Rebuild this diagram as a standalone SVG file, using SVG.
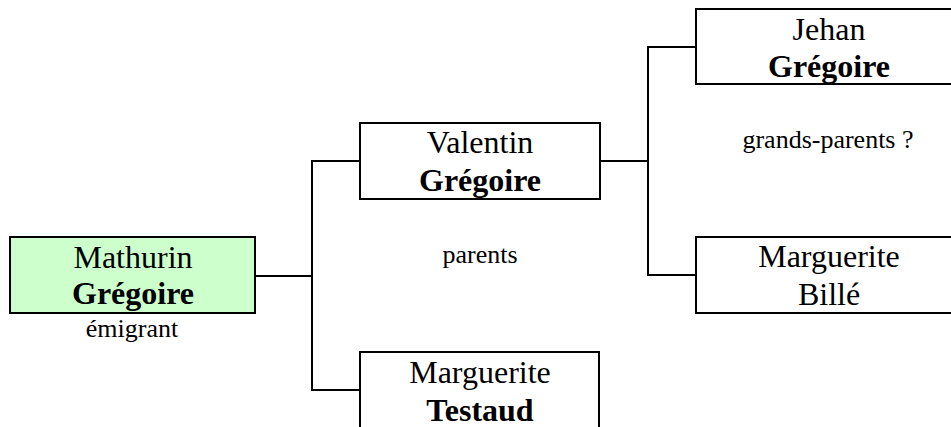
<svg xmlns="http://www.w3.org/2000/svg" width="951" height="427" viewBox="0 0 951 427">
<style>
.box{fill:#ffffff;stroke:#000000;stroke-width:2}
.ego{fill:#ccffcc;stroke:#000000;stroke-width:2}
text{font-family:'Liberation Serif','Times New Roman',Times,'DejaVu Serif',serif;fill:#000;text-anchor:middle}
.name{font-size:32px}
.b{font-weight:bold}
.lbl{font-size:26px}
.con{fill:none;stroke:#000000;stroke-width:2}
</style>
<rect width="951" height="427" fill="#ffffff"/>
<g id="connectors">
<polyline class="con" points="255,276 312,276"/>
<polyline class="con" points="360,161 312,161 312,390 360,390"/>
<polyline class="con" points="600,161 648,161"/>
<polyline class="con" points="696,47 648,47 648,275 696,275"/>
</g>
<g id="mathurin" font-family="Liberation Serif, serif">
<rect class="ego" x="10" y="237" width="245" height="76"/>
<text class="name" x="133" y="268">Mathurin</text>
<text class="name b" x="133" y="304">Grégoire</text>
<text class="lbl" x="132" y="337">émigrant</text>
</g>
<g id="valentin" font-family="Liberation Serif, serif">
<rect class="box" x="360" y="123" width="240" height="76"/>
<text class="name" x="480" y="153">Valentin</text>
<text class="name b" x="480" y="191">Grégoire</text>
</g>
<g id="testaud" font-family="Liberation Serif, serif">
<rect class="box" x="360" y="352" width="239" height="90"/>
<text class="name" x="480" y="383">Marguerite</text>
<text class="name b" x="480" y="421">Testaud</text>
</g>
<g id="jehan" font-family="Liberation Serif, serif">
<rect class="box" x="696" y="9" width="270" height="75"/>
<text class="name" x="829" y="40">Jehan</text>
<text class="name b" x="829" y="77">Grégoire</text>
</g>
<g id="bille" font-family="Liberation Serif, serif">
<rect class="box" x="696" y="237" width="270" height="76"/>
<text class="name" x="829" y="267">Marguerite</text>
<text class="name" x="829" y="305">Billé</text>
</g>
<g id="labels" font-family="Liberation Serif, serif">
<text class="lbl" x="480" y="263">parents</text>
<text class="lbl" x="828" y="148">grands-parents ?</text>
</g>
</svg>
